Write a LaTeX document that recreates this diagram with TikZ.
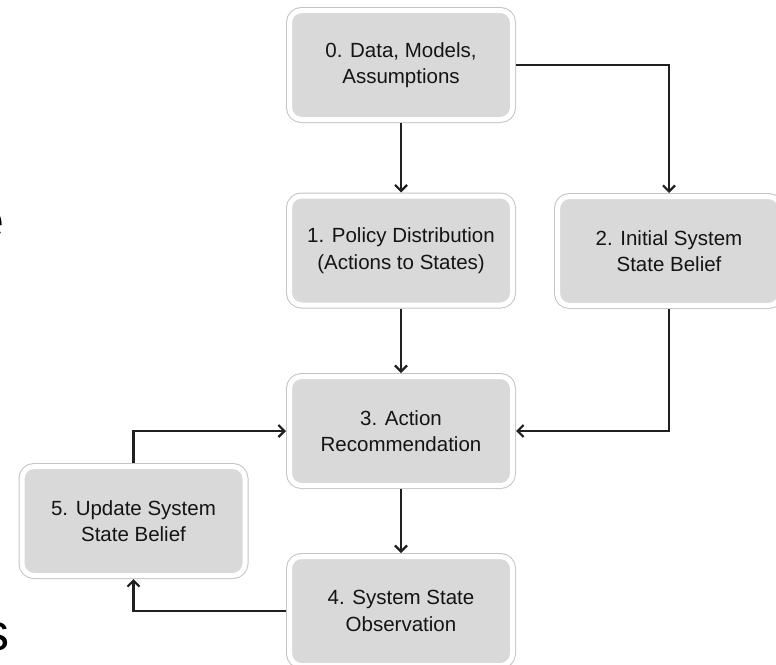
\documentclass[tikz,border=0pt]{standalone}
\usepackage{fontspec}
\setmainfont{Liberation Sans}
\usetikzlibrary{arrows.meta}
\definecolor{boxfill}{HTML}{D9D9D9}
\definecolor{boxring}{HTML}{C4C4C4}
\definecolor{linkcol}{HTML}{202020}
\definecolor{labelcol}{HTML}{141414}
\begin{document}
\begin{tikzpicture}[x=1pt,y=-1pt,
  stage/.style={rectangle, rounded corners=12pt,
    minimum width=223pt, minimum height=109pt,
    fill=boxfill, draw=white, line width=5pt,
    preaction={draw=boxring, line width=7pt},
    outer sep=3.5pt, inner sep=0pt, align=center,
    font=\fontsize{20.5}{26.5}\selectfont, text=labelcol},
  link/.style={draw=linkcol, line width=2.2pt,
    -{Straight Barb[length=6pt,width=12pt]}},
  fragment/.style={anchor=base west, inner sep=0pt,
    font=\fontsize{52}{52}\selectfont, text=black}]
\useasboundingbox (0,0) rectangle (776,664);
\clip (0,0) rectangle (776,664);

% process stages
\node[stage] (n0) at (401,65)    {0. Data, Models,\\Assumptions};
\node[stage] (n1) at (401,250.5) {1. Policy Distribution\\(Actions to States)};
\node[stage] (n2) at (669,251)   {2. Initial System\\State Belief};
\node[stage] (n3) at (401,431)   {3. Action\\Recommendation};
\node[stage] (n4) at (401,611)   {4. System State\\Observation};
\node[stage] (n5) at (133.5,521) {5. Update System\\State Belief};

% flow between stages
\draw[link] (n0) -- (n1);
\draw[link] (n0.east) -| (n2.north);
\draw[link] (n1) -- (n3);
\draw[link] (n2.south) |- (n3.east);
\draw[link] (n3) -- (n4);
\draw[link] (n4.west) -| (n5.south);
\draw[link] (n5.north) |- (n3.west);

% letters cut off at the left edge
\node[fragment] (fragE) at (-25,238) {e};
\node[fragment] (fragS) at (-16.5,650) {s};
\end{tikzpicture}
\end{document}
